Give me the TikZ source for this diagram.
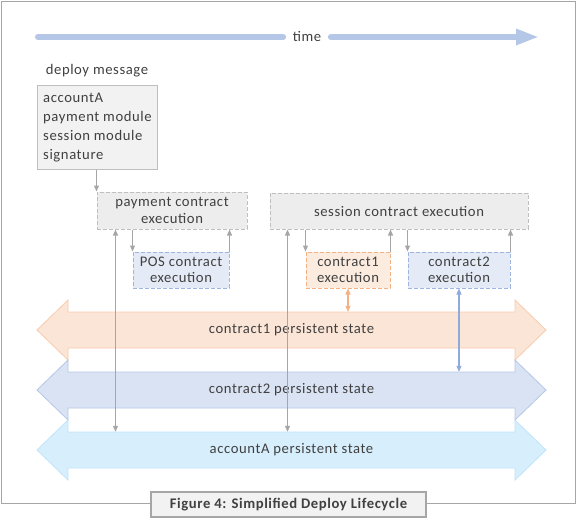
\documentclass[tikz,border=0pt]{standalone}
\usepackage{fontspec}
\setmainfont{Carlito}[LetterSpace=4]
\usetikzlibrary{arrows.meta,calc}
\definecolor{txt}{HTML}{404040}
\definecolor{frame}{HTML}{A6A6A6}
\definecolor{garrow}{HTML}{A6A6A6}
\definecolor{timec}{HTML}{B4C7E7}
\definecolor{gbord}{HTML}{BFBFBF}
\definecolor{gfill}{HTML}{EDEDED}
\definecolor{bbord}{HTML}{9DB5E0}
\definecolor{bfill}{HTML}{E5EBF6}
\definecolor{obord}{HTML}{F4B183}
\definecolor{ofill}{HTML}{FCEBDF}
\definecolor{oband}{HTML}{FBE5D6}
\definecolor{obandb}{HTML}{F8CBAD}
\definecolor{bband}{HTML}{DAE3F3}
\definecolor{bbandb}{HTML}{B4C7E7}
\definecolor{lband}{HTML}{D7EEFC}
\definecolor{lbandb}{HTML}{C0E4FA}
\definecolor{oarrow}{HTML}{F4B183}
\definecolor{barrow}{HTML}{8FAADC}
\definecolor{capfill}{HTML}{F2F2F2}
\begin{document}
\begin{tikzpicture}[x=1pt,y=-1pt,
  every node/.style={text=txt,font=\fontsize{14.67pt}{17pt}\selectfont},
  execbox/.style={draw=gbord,fill=gfill,dashed,dash pattern=on 4pt off 2pt,line width=1pt,inner sep=0pt,align=center},
  bluebox/.style={execbox,draw=bbord,fill=bfill},
  orangebox/.style={execbox,draw=obord,fill=ofill},
  garr/.style={draw=garrow,line width=1.1pt,-{Triangle[length=6pt,width=5pt]}},
  garr2/.style={draw=garrow,line width=1.1pt,{Triangle[length=6pt,width=5pt]}-{Triangle[length=6pt,width=5pt]}},
  bandtext/.style={minimum width=447pt,minimum height=36pt,inner sep=0pt}
]
\useasboundingbox (0,0) rectangle (577,522);
% frame
\draw[frame,line width=1pt] (1.5,1.5) rectangle (575,503);
% time arrow
\coordinate (t0) at (38,37);
\coordinate (t1) at (539,37);
\node[inner xsep=9.5pt,inner ysep=0pt] (time) at (307,36) {time};
\draw[timec,line width=6pt,line cap=round] (t0) -- (time.west |- t0);
\draw[timec,line width=6pt,line cap=round,-{Triangle[length=23pt,width=15pt]}] (time.east |- t0) -- (t1);
% deploy message
\node (deplbl) at (97,71) {deploy message};
\node[draw=gbord,fill=capfill,line width=1pt,minimum width=120pt,minimum height=84pt,inner sep=0pt] (dep) at (97,127) {};
\node[anchor=west,inner sep=0pt,align=left,font=\fontsize{14.67pt}{19pt}\selectfont] (deptext) at (43,127.5)
  {accountA\\payment module\\session module\\signature};
% execution boxes
\node[execbox,minimum width=150pt,minimum height=37pt] (pay) at (172,210.5) {payment contract\\execution};
\node[execbox,minimum width=258pt,minimum height=36pt] (ses) at (399,211) {session contract execution};
\node[bluebox,minimum width=96pt,minimum height=36pt,font=\fontsize{14.67pt}{16.5pt}\selectfont] (pos) at (181,270) {POS contract\\execution};
\node[orangebox,minimum width=84pt,minimum height=36pt,font=\fontsize{14.67pt}{16.5pt}\selectfont] (c1) at (348,270) {contract1\\execution};
\node[bluebox,minimum width=102pt,minimum height=36pt,font=\fontsize{14.67pt}{16.5pt}\selectfont] (c2) at (459,270) {contract2\\execution};
% bands
\foreach \c/\f/\b in {330/oband/obandb,390/bband/bbandb,450/lband/lbandb}{
  \filldraw[fill=\f,draw=\b,line width=0.8pt] (37,\c) -- (68,\c-30) -- (68,\c-18) -- (515,\c-18) -- (515,\c-30)
    -- (546,\c) -- (515,\c+30) -- (515,\c+18) -- (68,\c+18) -- (68,\c+30) -- cycle;
}
\node[bandtext] (c1st) at (291.5,330) {contract1 persistent state};
\node[bandtext] (c2st) at (291.5,390) {contract2 persistent state};
\node[bandtext] (accst) at (291.5,450) {accountA persistent state};
% connectors
\draw[garr] (pay.north west |- dep.south) -- (pay.north west);
\draw[garr] (pos.north west |- pay.south) -- (pos.north west);
\draw[garr] (pos.north east) -- (pos.north east |- pay.south);
\draw[garr] (c1.north west |- ses.south) -- (c1.north west);
\draw[garr] (c1.north east) -- (c1.north east |- ses.south);
\draw[garr] (c2.north west |- ses.south) -- (c2.north west);
\draw[garr] (c2.north east) -- (c2.north east |- ses.south);
\draw[garr2] ([xshift=19pt]pay.south west) -- ([xshift=19pt]pay.south west |- accst.north);
\draw[garr2] ([xshift=18pt]ses.south west) -- ([xshift=18pt]ses.south west |- accst.north);
\draw[draw=oarrow,line width=1.1pt,{Triangle[length=6pt,width=5pt]}-{Triangle[length=6pt,width=5pt]}] (c1.south) -- (c1.south |- c1st.north);
\draw[draw=barrow,line width=1.1pt,{Triangle[length=6pt,width=5pt]}-{Triangle[length=6pt,width=5pt]}] (c2.south) -- (c2.south |- c2st.north);
% caption
\node[draw=frame,fill=capfill,line width=1.2pt,minimum width=275pt,minimum height=25pt,inner sep=0pt,
  font=\bfseries\fontsize{14.67pt}{17pt}\selectfont] (cap) at (288.5,504.5) {Figure 4: Simplified Deploy Lifecycle};
\end{tikzpicture}
\end{document}
